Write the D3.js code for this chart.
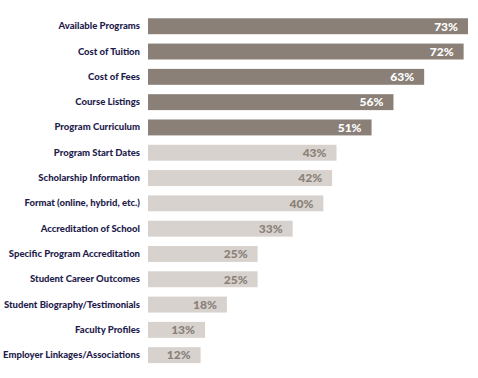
<!DOCTYPE html>
<html><head><meta charset="utf-8">
<script src="https://cdn.jsdelivr.net/npm/d3@7"></script>
<style>body{margin:0;background:#fff;}svg{display:block;}</style>
</head><body>
<svg id="c" width="478" height="378"></svg>
<script>
const categories = ["Available Programs","Cost of Tuition","Cost of Fees","Course Listings","Program Curriculum","Program Start Dates","Scholarship Information","Format (online, hybrid, etc.)","Accreditation of School","Specific Program Accreditation","Student Career Outcomes","Student Biography/Testimonials","Faculty Profiles","Employer Linkages/Associations"];
const values = [73,72,63,56,51,43,42,40,33,25,25,18,13,12];
const highlighted = [true,true,true,true,true,false,false,false,false,false,false,false,false,false];

const svg = d3.select("#c");
const x0 = 148;
const x = d3.scaleLinear().domain([0, 73]).range([x0, 468]);
const y = d3.scaleBand().domain(categories).range([13.2, 368.2]).paddingInner(0.37).paddingOuter(0.2);

const data = categories.map((c,i)=>({c, v: values[i], h: highlighted[i]}));

svg.selectAll("rect.bar").data(data).join("rect")
  .attr("class","bar")
  .attr("x", x(0))
  .attr("y", d=>y(d.c))
  .attr("width", d=>x(d.v)-x(0))
  .attr("height", y.bandwidth())
  .attr("fill", d=>d.h ? "#8a8078" : "#d7d2cd");

svg.selectAll("text.val").data(data).join("text")
  .attr("class","val")
  .attr("x", d=>x(d.v)-10)
  .attr("y", d=>y(d.c)+y.bandwidth()/2)
  .attr("dy","0.36em")
  .attr("text-anchor","end")
  .attr("font-family","Lato, sans-serif")
  .attr("font-weight",900)
  .attr("font-size","12px")
  .attr("fill", d=>d.h ? "#ffffff" : "#8a8078")
  .text(d=>d.v+"%");

const yAxis = d3.axisLeft(y).tickSize(0).tickPadding(8);
const g = svg.append("g").attr("transform",`translate(${x0},0)`).call(yAxis);
g.select(".domain").remove();
g.selectAll("text")
  .attr("font-family","Lato, sans-serif")
  .attr("font-weight",900)
  .attr("font-size","9.5px")
  .attr("fill","#1f1d4d");
</script>
</body></html>
